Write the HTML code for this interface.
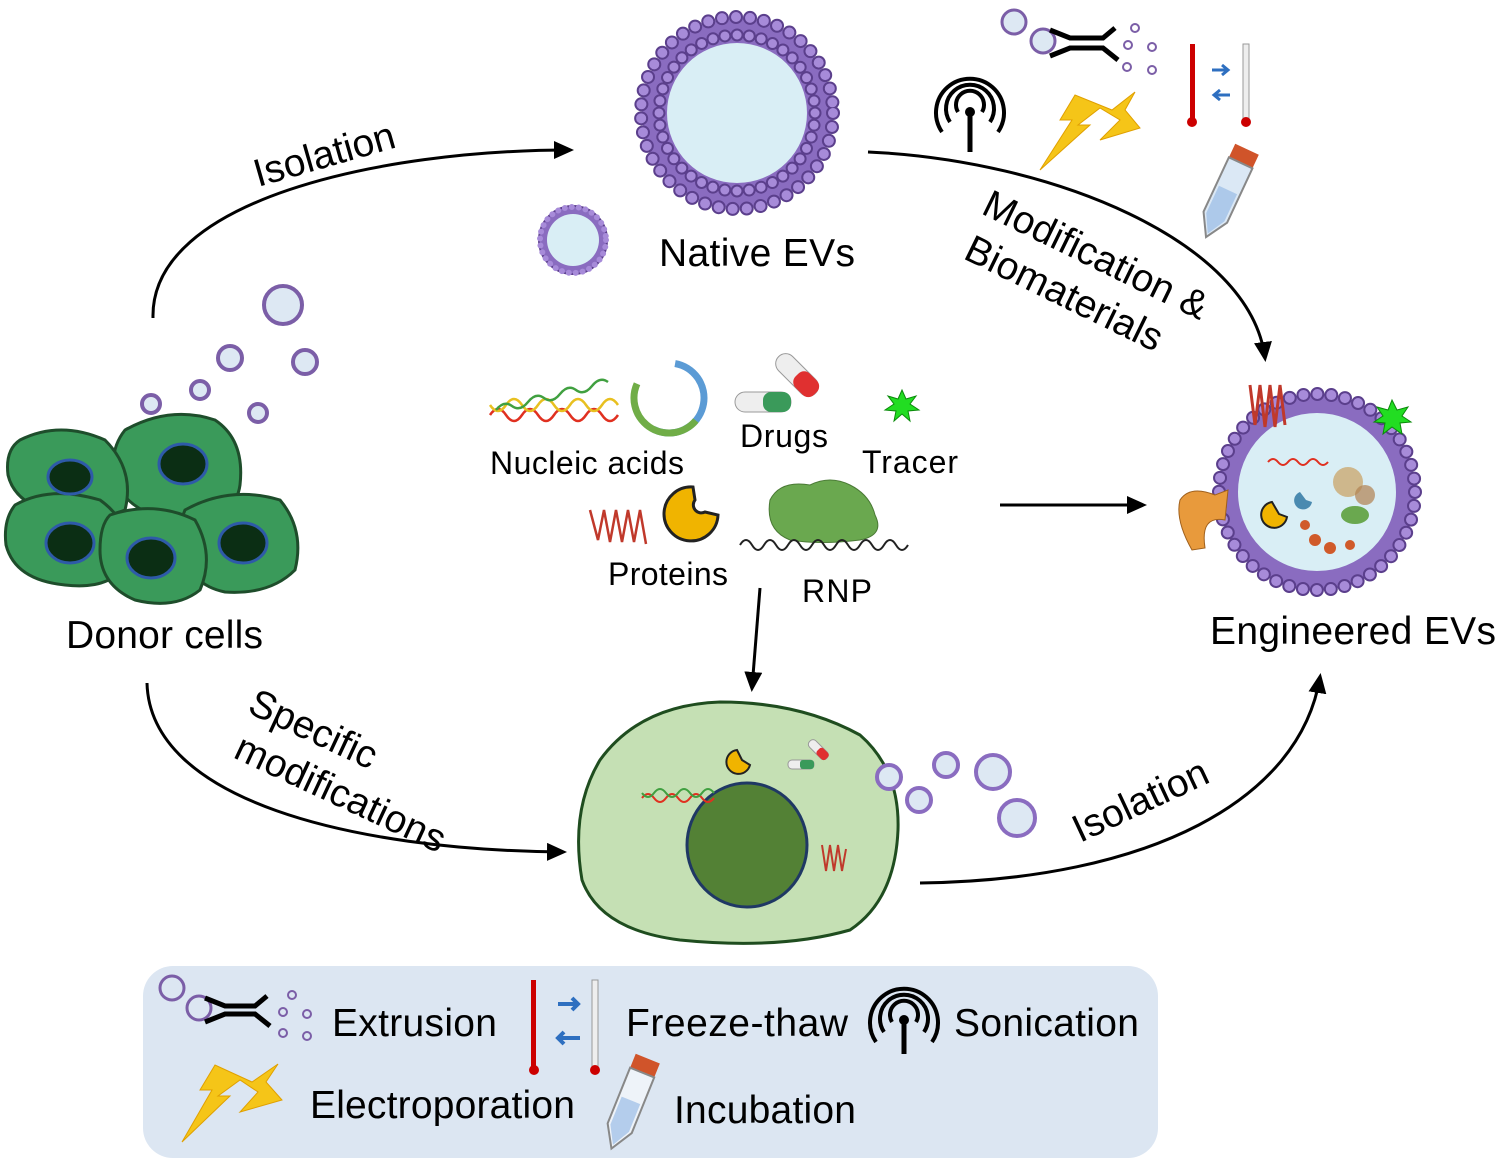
<!DOCTYPE html>
<html><head><meta charset="utf-8"><style>
html,body{margin:0;padding:0;background:#fff}
svg{display:block}
text{font-family:"Liberation Sans",Arial,sans-serif;fill:#000}
</style></head><body>
<svg width="1499" height="1162" viewBox="0 0 1499 1162" xmlns="http://www.w3.org/2000/svg">
<defs>
<marker id="ah2" markerWidth="20" markerHeight="18" refX="16" refY="9" orient="auto" markerUnits="userSpaceOnUse" viewBox="0 0 20 18">
<path d="M0,0 L20,9 L0,18 z" fill="#000"/></marker>
</defs>

<g>
<circle cx="737" cy="113" r="95" fill="#8a6cc0"/>
<circle cx="737" cy="113" r="96" fill="none" stroke="#5b3f8c" stroke-width="14" stroke-dasharray="0 14.1" stroke-linecap="round"/>
<circle cx="737" cy="113" r="96" fill="none" stroke="#a78bd9" stroke-width="10" stroke-dasharray="0 14.1" stroke-linecap="round"/>
<circle cx="737" cy="113" r="78" fill="none" stroke="#5b3f8c" stroke-width="13" stroke-dasharray="0 12.25" stroke-linecap="round"/>
<circle cx="737" cy="113" r="78" fill="none" stroke="#a78bd9" stroke-width="9" stroke-dasharray="0 12.25" stroke-linecap="round"/>
<circle cx="737" cy="113" r="70" fill="#d9eef5"/>
</g>
<g>
<circle cx="573" cy="240" r="34" fill="#8a6cc0" stroke="#5b3f8c" stroke-width="2"/>
<circle cx="573" cy="240" r="33" fill="none" stroke="#a78bd9" stroke-width="6" stroke-dasharray="0 7" stroke-linecap="round"/>
<circle cx="573" cy="240" r="26" fill="#d9eef5"/>
</g>
<text x="659" y="266" font-size="39" textLength="196">Native EVs</text>

<g fill="#dde8f3" stroke="#7b5ea7" stroke-width="4">
<circle cx="283" cy="305" r="19"/><circle cx="230" cy="358" r="12"/><circle cx="305" cy="362" r="12"/>
<circle cx="200" cy="390" r="9"/><circle cx="258" cy="413" r="9"/><circle cx="151" cy="404" r="9"/>
</g>
<g stroke="#1e4d2b" stroke-width="3" fill="#3a9a5a">
<path d="M125,430 Q170,405 215,420 Q245,440 240,485 Q235,520 190,520 Q140,520 120,490 Q105,455 125,430z"/>
<path d="M20,440 Q60,420 105,440 Q135,470 125,510 Q100,520 60,515 Q15,505 8,475 Q5,450 20,440z"/>
<path d="M15,505 Q50,485 100,500 Q135,525 125,565 Q110,590 65,585 Q15,580 6,545 Q3,520 15,505z"/>
<path d="M185,510 Q230,485 280,500 Q305,530 295,570 Q270,595 225,592 Q190,585 183,550 Q178,525 185,510z"/>
<path d="M110,515 Q155,500 195,520 Q215,555 200,590 Q175,610 135,600 Q100,585 100,550 Q100,525 110,515z"/>
</g>
<g fill="#0b2e14" stroke="#2e5aa8" stroke-width="3">
<ellipse cx="183" cy="464" rx="24" ry="20"/><ellipse cx="70" cy="477" rx="22" ry="17"/>
<ellipse cx="70" cy="543" rx="24" ry="20"/><ellipse cx="243" cy="543" rx="24" ry="20"/>
<ellipse cx="151" cy="558" rx="24" ry="20"/>
</g>
<text x="66" y="648" font-size="39" textLength="197">Donor cells</text>

<g fill="none" stroke="#000" stroke-width="3">
<path d="M153,318 C150,200 380,150 570,150" marker-end="url(#ah2)"/>
<path d="M868,152 C1050,160 1250,240 1265,358" marker-end="url(#ah2)"/>
<path d="M1000,505 L1143,505" marker-end="url(#ah2)"/>
<path d="M760,588 L752,688" marker-end="url(#ah2)"/>
<path d="M147,683 C150,800 350,850 563,852" marker-end="url(#ah2)"/>
<path d="M920,883 C1150,880 1300,800 1320,677" marker-end="url(#ah2)"/>
</g>
<text x="0" y="0" font-size="39" transform="translate(258,187) rotate(-16)">Isolation</text>
<text x="0" y="0" font-size="39" transform="translate(980,213) rotate(26)">Modification &amp;</text>
<text x="0" y="0" font-size="39" transform="translate(962,258) rotate(26)">Biomaterials</text>
<text x="0" y="0" font-size="39" transform="translate(246,712) rotate(25)">Specific</text>
<text x="0" y="0" font-size="39" transform="translate(232,757) rotate(25)">modifications</text>
<text x="0" y="0" font-size="39" transform="translate(1080,843) rotate(-25)">Isolation</text>

<g stroke-width="2.5" fill="none">
<path d="M490,415 q8,-12 16,0 t16,0 t16,0 t16,0 t16,0 t16,0 t16,0 t16,0" stroke="#e03020"/>
<path d="M490,405 q8,12 16,0 t16,0 t16,0 t16,0 t16,0 t16,0 t16,0 t16,0" stroke="#e8c020"/>
<path d="M496,410 q8,-10 16,-4 t16,-4 t16,-4 t16,-4 t16,-4 t16,-4 t16,-4" stroke="#40a040"/>
</g>
<circle cx="669" cy="398" r="35" fill="none" stroke="#5b9bd5" stroke-width="7" stroke-dasharray="120 300" transform="rotate(-80 669 398)"/>
<circle cx="669" cy="398" r="35" fill="none" stroke="#70ad47" stroke-width="7" stroke-dasharray="100 300" transform="rotate(40 669 398)"/>
<text x="490" y="474" font-size="32" textLength="194">Nucleic acids</text>
<rect x="735" y="392" width="56" height="20" rx="10" fill="#eee" stroke="#999"/>
<rect x="763" y="392" width="28" height="20" rx="8" fill="#3a9a5a"/>
<g transform="rotate(45 797 375)"><rect x="771" y="365" width="52" height="20" rx="10" fill="#eee" stroke="#999"/><rect x="797" y="365" width="26" height="20" rx="8" fill="#e03030"/></g>
<text x="740" y="447" font-size="32" textLength="88">Drugs</text>
<polygon points="902,390 906,399 916,396 910,404 919,410 908,411 910,421 902,414 894,421 896,411 885,410 894,404 888,396 898,399" fill="#22dd22" stroke="#0a8a0a"/>
<text x="862" y="473" font-size="32" textLength="96">Tracer</text>
<g stroke="#c0392b" stroke-width="2.5" fill="none">
<path d="M590,510 l8,30 l6,-30 l6,32 l6,-32 l6,32 l6,-32 l6,32 l6,-32 l6,34"/>
</g>
<path d="M693,487 A27,27 0 1 0 718,515 L705,512 A8,8 0 0 1 695,500 Z" fill="#f0b400" stroke="#222" stroke-width="3"/>
<text x="608" y="585" font-size="32" textLength="120">Proteins</text>
<path d="M770,500 Q780,480 810,485 Q830,475 850,485 Q870,495 875,515 Q885,535 860,540 Q820,545 790,540 Q765,530 770,500z" fill="#6aa84f" stroke="#4a7a35"/>
<path d="M740,545 q6,-10 12,0 t12,0 t12,0 t12,0 t12,0 t12,0 t12,0 t12,0 t12,0 t12,0 t12,0 t12,0 t12,0 t12,0" fill="none" stroke="#222" stroke-width="2"/>
<text x="802" y="602" font-size="32" textLength="70">RNP</text>

<g>
<circle cx="1317" cy="492" r="98" fill="#8a6cc0"/>
<circle cx="1317" cy="492" r="98" fill="none" stroke="#5b3f8c" stroke-width="14" stroke-dasharray="0 14" stroke-linecap="round"/>
<circle cx="1317" cy="492" r="98" fill="none" stroke="#a78bd9" stroke-width="10" stroke-dasharray="0 14" stroke-linecap="round"/>
<circle cx="1317" cy="492" r="82" fill="#d9eef5" stroke="#8a6cc0" stroke-width="6"/>
</g>
<path d="M1180,500 Q1190,485 1215,495 L1228,490 L1225,520 Q1200,515 1205,548 L1192,550 Q1175,520 1180,500z" fill="#e89a3c" stroke="#a0601c"/>
<path d="M1250,385 l5,40 l5,-40 l5,42 l5,-42 l5,42 l5,-42 l5,40" stroke="#c0392b" stroke-width="3" fill="none"/>
<polygon points="1392,400 1397,410 1408,407 1402,416 1411,422 1400,423 1402,434 1392,427 1383,434 1385,423 1374,422 1383,416 1377,407 1388,410" fill="#22dd22" stroke="#0a8a0a"/>
<circle cx="1348" cy="482" r="15" fill="#c9a060" opacity="0.7"/>
<circle cx="1365" cy="495" r="10" fill="#b08050" opacity="0.7"/>
<circle cx="1315" cy="540" r="6" fill="#d05a2a"/><circle cx="1330" cy="548" r="6" fill="#d05a2a"/><circle cx="1305" cy="525" r="5" fill="#d05a2a"/><circle cx="1350" cy="545" r="5" fill="#d05a2a"/>
<path d="M1272,502 A13,13 0 1 0 1287,517 L1279,514 Z" fill="#f0b400" stroke="#222" stroke-width="2"/>
<path d="M1300,492 a9,9 0 1 0 12,10 l-6,-2z" fill="#4a8ab0"/>
<ellipse cx="1355" cy="515" rx="14" ry="9" fill="#6aa84f"/>
<path d="M1268,462 q5,-6 10,0 t10,0 t10,0 t10,0 t10,0 t10,0" stroke="#e03020" stroke-width="2" fill="none"/>
<text x="1210" y="644" font-size="39" textLength="286">Engineered EVs</text>

<circle cx="1014" cy="22" r="12" fill="#dde8f3" stroke="#7b5ea7" stroke-width="3"/>
<circle cx="1043" cy="41" r="12" fill="#dde8f3" stroke="#7b5ea7" stroke-width="3"/>
<path d="M1050,30 L1070,38 L1103,38 L1115,28 M1050,56 L1070,48 L1103,48 L1118,60" stroke="#000" stroke-width="5" fill="none"/>
<g fill="none" stroke="#7b5ea7" stroke-width="2"><circle cx="1135" cy="28" r="4"/><circle cx="1128" cy="45" r="4"/><circle cx="1152" cy="47" r="4"/><circle cx="1127" cy="67" r="4"/><circle cx="1152" cy="70" r="4"/></g>
<g fill="none" stroke="#000" stroke-width="4"><path d="M958,112 a14,14 0 1 1 24,0"/><path d="M950,122 a24,24 0 1 1 40,0"/><path d="M942,132 a34,34 0 1 1 56,0"/></g>
<line x1="970" y1="112" x2="970" y2="152" stroke="#000" stroke-width="5"/><circle cx="970" cy="112" r="5"/>
<polygon points="1075,95 1060,120 1072,120 1040,170 1090,125 1078,125 1100,108 1120,120 1100,140 1140,128 1125,110 1135,92 1112,110" fill="#f5c518" stroke="#e0a000"/>
<rect x="1190" y="44" width="5" height="76" fill="#c00"/><circle cx="1192" cy="122" r="5" fill="#c00"/>
<rect x="1243" y="44" width="6" height="76" fill="#eee" stroke="#999"/><circle cx="1246" cy="122" r="5" fill="#c00"/>
<path d="M1212,70 h16 M1222,65 l6,5 -6,5 M1230,95 h-16 M1220,90 l-6,5 6,5" stroke="#2e6fc0" stroke-width="3" fill="none"/>
<g transform="rotate(25 1228 190)"><rect x="1215" y="145" width="26" height="15" fill="#d0542a"/><path d="M1215,160 h26 v60 l-13,22 l-13,-22z" fill="#dbe8f5" stroke="#888" stroke-width="2"/><path d="M1218,190 h20 v30 l-10,18 l-10,-18z" fill="#8db4e2" opacity="0.6"/></g>

<path d="M600,760 Q640,705 720,702 Q800,702 860,735 Q900,770 898,830 Q895,900 850,930 Q780,950 680,940 Q600,930 582,880 Q570,810 600,760z" fill="#c5e0b4" stroke="#1f4d1f" stroke-width="3"/>
<ellipse cx="747" cy="845" rx="60" ry="62" fill="#538135" stroke="#1f3864" stroke-width="3"/>
<path d="M642,798 q6,-8 12,0 t12,0 t12,0 t12,0 t12,0 t12,0" stroke="#e03020" stroke-width="2" fill="none"/>
<path d="M642,793 q6,8 12,0 t12,0 t12,0 t12,0 t12,0 t12,0" stroke="#40a040" stroke-width="2" fill="none"/>
<path d="M737,750 A12,12 0 1 0 750,765 L742,760 Z" fill="#f0b400" stroke="#222" stroke-width="2"/>
<rect x="788" y="760" width="26" height="9" rx="4" fill="#eee" stroke="#999"/><rect x="800" y="760" width="14" height="9" rx="3" fill="#3a9a5a"/>
<g transform="rotate(45 818 750)"><rect x="806" y="745" width="24" height="9" rx="4" fill="#eee" stroke="#999"/><rect x="818" y="745" width="12" height="9" rx="3" fill="#e03030"/></g>
<path d="M822,845 l4,26 l4,-26 l4,26 l4,-26 l4,26 l4,-22" stroke="#c0392b" stroke-width="2" fill="none"/>
<g fill="#dde8f3" stroke="#8a6cc0" stroke-width="4">
<circle cx="889" cy="777" r="12"/><circle cx="919" cy="800" r="12"/><circle cx="946" cy="765" r="12"/>
<circle cx="993" cy="772" r="17"/><circle cx="1017" cy="818" r="18"/></g>

<rect x="143" y="966" width="1015" height="192" rx="30" fill="#dce6f2"/>
<circle cx="172" cy="988" r="12" fill="none" stroke="#7b5ea7" stroke-width="3"/>
<circle cx="199" cy="1008" r="12" fill="none" stroke="#7b5ea7" stroke-width="3"/>
<path d="M205,998 L225,1006 L255,1006 L267,996 M205,1022 L225,1014 L255,1014 L270,1026" stroke="#000" stroke-width="5" fill="none"/>
<g fill="none" stroke="#7b5ea7" stroke-width="2"><circle cx="292" cy="995" r="4"/><circle cx="283" cy="1012" r="4"/><circle cx="307" cy="1014" r="4"/><circle cx="283" cy="1033" r="4"/><circle cx="307" cy="1036" r="4"/></g>
<text x="332" y="1036" font-size="39" textLength="165">Extrusion</text>
<rect x="531" y="980" width="5" height="88" fill="#c00"/><circle cx="534" cy="1070" r="5" fill="#c00"/>
<rect x="592" y="980" width="6" height="88" fill="#eee" stroke="#999"/><circle cx="595" cy="1070" r="5" fill="#c00"/>
<path d="M558,1004 h20 M572,998 l6,6 -6,6 M580,1038 h-22 M564,1032 l-6,6 6,6" stroke="#2e6fc0" stroke-width="4" fill="none"/>
<text x="626" y="1036" font-size="39" textLength="222">Freeze-thaw</text>
<g fill="none" stroke="#000" stroke-width="4"><path d="M892,1022 a14,14 0 1 1 24,0"/><path d="M884,1032 a24,24 0 1 1 40,0"/><path d="M876,1042 a34,34 0 1 1 56,0"/></g>
<line x1="904" y1="1020" x2="904" y2="1054" stroke="#000" stroke-width="5"/><circle cx="904" cy="1020" r="5"/>
<text x="954" y="1036" font-size="39" textLength="185">Sonication</text>
<polygon points="215,1065 200,1090 212,1090 182,1142 230,1096 218,1096 240,1080 258,1092 240,1112 282,1100 266,1082 278,1064 252,1082" fill="#f5c518" stroke="#e0a000"/>
<text x="310" y="1118" font-size="39" textLength="265">Electroporation</text>
<g transform="rotate(22 630 1100)"><rect x="618" y="1055" width="26" height="15" fill="#d0542a"/><path d="M618,1070 h26 v60 l-13,22 l-13,-22z" fill="#eef3f9" stroke="#888" stroke-width="2"/><path d="M621,1100 h20 v30 l-10,18 l-10,-18z" fill="#8db4e2" opacity="0.6"/></g>
<text x="674" y="1123" font-size="39" textLength="182">Incubation</text>
</svg>
</body></html>
